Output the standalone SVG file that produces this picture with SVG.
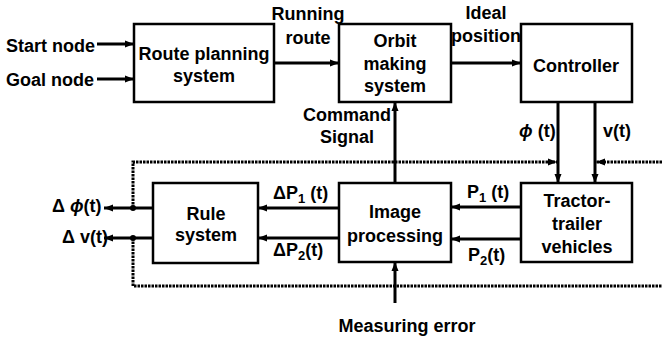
<svg xmlns="http://www.w3.org/2000/svg" width="662" height="343" viewBox="0 0 662 343">
<style>
.box{fill:#fff;stroke:#000;stroke-width:2.5}
.t{font-family:"Liberation Sans",Arial,sans-serif;font-weight:bold;font-size:18px;fill:#000}
.c{text-anchor:middle}
.ln{stroke:#000;stroke-width:3;fill:none}
.dot{stroke:#000;stroke-width:3;fill:none;stroke-dasharray:2.5 1}
</style>
<defs>
<marker id="ah" markerUnits="userSpaceOnUse" markerWidth="10" markerHeight="8" refX="9" refY="4" orient="auto">
<path d="M0,0.5 L9,4 L0,7.5 Z" fill="#000"/>
</marker>
</defs>
<rect width="662" height="343" fill="#fff"/>
<g id="connectors">
<line class="ln" x1="97" y1="44" x2="134" y2="44" marker-end="url(#ah)"/>
<line class="ln" x1="97" y1="79" x2="134" y2="79" marker-end="url(#ah)"/>
<line class="ln" x1="274" y1="63" x2="339" y2="63" marker-end="url(#ah)"/>
<line class="ln" x1="451" y1="63" x2="521" y2="63" marker-end="url(#ah)"/>
<line class="ln" x1="558" y1="102" x2="558" y2="183" marker-end="url(#ah)"/>
<line class="ln" x1="595" y1="102" x2="595" y2="183" marker-end="url(#ah)"/>
<line class="ln" x1="395" y1="183" x2="395" y2="102" marker-end="url(#ah)"/>
<line class="ln" x1="395" y1="303" x2="395" y2="262" marker-end="url(#ah)"/>
<line class="ln" x1="521" y1="207" x2="451" y2="207" marker-end="url(#ah)"/>
<line class="ln" x1="521" y1="239" x2="451" y2="239" marker-end="url(#ah)"/>
<line class="ln" x1="339" y1="208" x2="258" y2="208" marker-end="url(#ah)"/>
<line class="ln" x1="339" y1="238" x2="258" y2="238" marker-end="url(#ah)"/>
<line class="ln" x1="153" y1="208" x2="104" y2="208" marker-end="url(#ah)"/>
<line class="ln" x1="153" y1="238" x2="104" y2="238" marker-end="url(#ah)"/>
<polyline class="dot" points="133,208 133,162 557,162" marker-end="url(#ah)"/>
<line class="dot" x1="662" y1="162" x2="596" y2="162" marker-end="url(#ah)"/>
<polyline class="dot" points="133,238 133,286 662,286"/>
<circle cx="133" cy="208" r="3" fill="#000"/>
<circle cx="133" cy="238" r="3" fill="#000"/>
</g>
<g id="route-planning">
<rect class="box" x="134" y="24" width="140" height="78"/>
<text class="t c" x="204" y="60">Route planning</text>
<text class="t c" x="204" y="82">system</text>
</g>
<g id="orbit-making">
<rect class="box" x="339" y="24" width="112" height="78"/>
<text class="t c" x="395" y="47">Orbit</text>
<text class="t c" x="395" y="70">making</text>
<text class="t c" x="395" y="92">system</text>
</g>
<g id="controller">
<rect class="box" x="521" y="24" width="111" height="78"/>
<text class="t c" x="576" y="72">Controller</text>
</g>
<g id="rule-system">
<rect class="box" x="153" y="183" width="105" height="80"/>
<text class="t c" x="206" y="220">Rule</text>
<text class="t c" x="206" y="241">system</text>
</g>
<g id="image-processing">
<rect class="box" x="339" y="183" width="112" height="79"/>
<text class="t c" x="395" y="218">Image</text>
<text class="t c" x="395" y="242">processing</text>
</g>
<g id="tractor-trailer">
<rect class="box" x="521" y="183" width="111" height="79"/>
<text class="t c" x="577" y="207">Tractor-</text>
<text class="t c" x="577" y="230">trailer</text>
<text class="t c" x="577" y="253">vehicles</text>
</g>
<g id="labels">
<text class="t" x="6" y="52">Start node</text>
<text class="t" x="6" y="86">Goal node</text>
<text class="t c" x="308" y="20">Running</text>
<text class="t c" x="308" y="44">route</text>
<text class="t c" x="486" y="19">Ideal</text>
<text class="t c" x="486" y="42">position</text>
<text class="t c" x="347" y="121">Command</text>
<text class="t c" x="347" y="143">Signal</text>
<text class="t" x="519" y="137"><tspan font-style="italic">ϕ</tspan> (t)</text>
<text class="t" x="603" y="137">v(t)</text>
<text class="t" x="52" y="212">Δ <tspan font-style="italic">ϕ</tspan>(t)</text>
<text class="t" x="62" y="243">Δ v(t)</text>
<text class="t" x="273" y="199">ΔP<tspan font-size="13" dy="4">1</tspan><tspan dy="-4"> (t)</tspan></text>
<text class="t" x="273" y="256">ΔP<tspan font-size="13" dy="4">2</tspan><tspan dy="-4">(t)</tspan></text>
<text class="t" x="467" y="198">P<tspan font-size="13" dy="4">1</tspan><tspan dy="-4"> (t)</tspan></text>
<text class="t" x="468" y="261">P<tspan font-size="13" dy="4">2</tspan><tspan dy="-4">(t)</tspan></text>
<text class="t c" x="407" y="332">Measuring error</text>
</g>
</svg>
